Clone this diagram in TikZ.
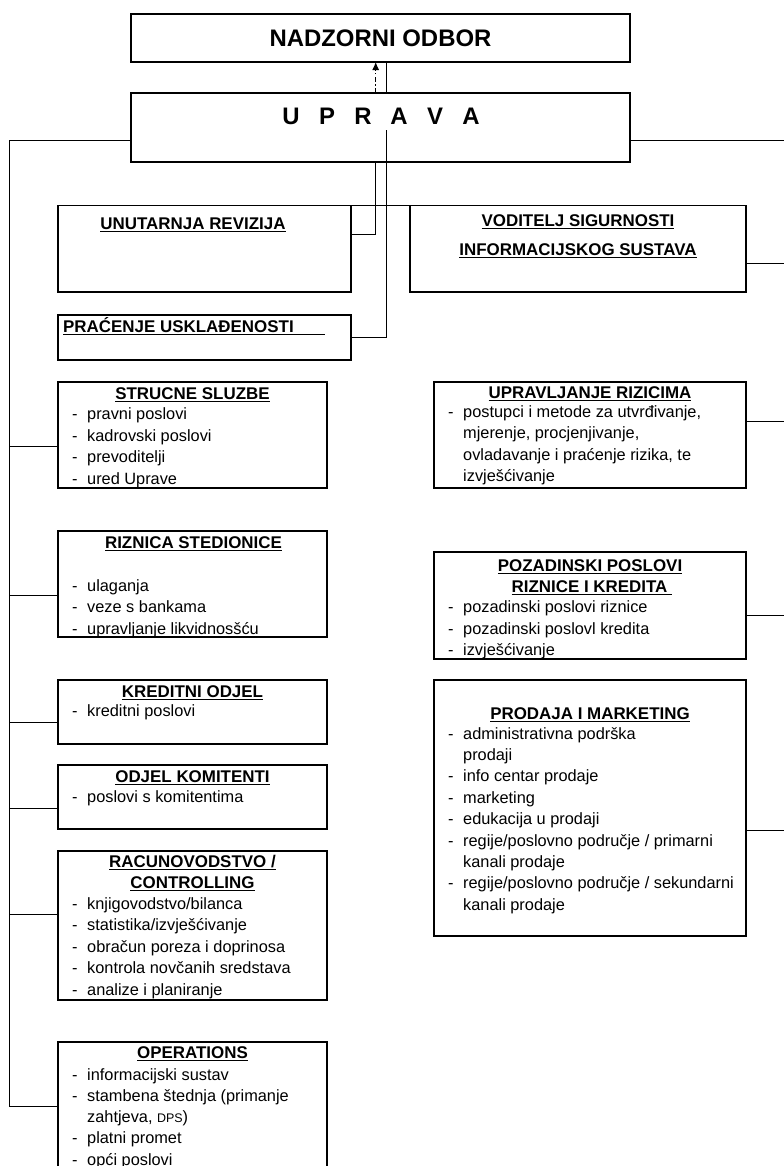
\documentclass[tikz,border=0pt]{standalone}
\usepackage{fontspec}
\setmainfont{Liberation Sans}
\usetikzlibrary{arrows.meta}
\newcommand\myul[1]{\setbox0\hbox{#1}\rlap{\rule[-2.8bp]{\wd0}{1.1bp}}\box0}
\newcommand\dsh{\makebox[15bp][l]{-}}
\newcommand\ind{\hspace*{15bp}}
\begin{document}
\begin{tikzpicture}[x=1bp,y=-1bp,
  box/.style={draw=black, line width=1.1bp, inner sep=0, outer sep=0, rectangle},
  ttl/.style={font=\fontsize{17}{20}\selectfont\bfseries, inner sep=0, anchor=base},
  big/.style={font=\fontsize{24}{28}\selectfont\bfseries, inner sep=0, anchor=base},
  itm/.style={font=\fontsize{16.4}{20}\selectfont, inner sep=0, anchor=base west},
  conn/.style={line width=1bp, black}]
\useasboundingbox (0,0) rectangle (784,1166);
\clip (0,0) rectangle (784,1166);

% boxes
\node[box, minimum width=499bp, minimum height=48bp] (nad) at (380.5,38) {};
\node[box, minimum width=499bp, minimum height=69bp] (upr) at (380.5,127.5) {};
\node[box, minimum width=293bp, minimum height=86.5bp] (unut) at (204.5,248.75) {};
\node[box, minimum width=336bp, minimum height=86.5bp] (vod) at (578,248.75) {};
\node[box, minimum width=293bp, minimum height=45bp] (prac) at (204.5,337.5) {};
\node[box, minimum width=269bp, minimum height=106bp] (stru) at (192.5,435) {};
\node[box, minimum width=312bp, minimum height=106bp] (uprr) at (590,435) {};
\node[box, minimum width=269bp, minimum height=106bp] (rizn) at (192.5,584) {};
\node[box, minimum width=312bp, minimum height=107bp] (poz) at (590,605.5) {};
\node[box, minimum width=269bp, minimum height=64bp] (kred) at (192.5,712) {};
\node[box, minimum width=312bp, minimum height=256bp] (prod) at (590,808) {};
\node[box, minimum width=269bp, minimum height=64bp] (komi) at (192.5,797) {};
\node[box, minimum width=269bp, minimum height=149bp] (racu) at (192.5,925.5) {};
\node[box, minimum width=269bp, minimum height=178bp] (oper) at (192.5,1131) {};

% titles
\node[big] (nadt) at (380.5,46.6) {NADZORNI ODBOR};
\node[big] (uprt) at (381,124.6) {\makebox[36bp]{U}\makebox[36bp]{P}\makebox[36bp]{R}\makebox[36bp]{A}\makebox[36bp]{V}\makebox[36bp]{A}};
\node[ttl] (unutt) at (193,229.5) {\myul{UNUTARNJA REVIZIJA}};
\node[ttl] (vodt1) at (578,226) {\myul{VODITELJ SIGURNOSTI}};
\node[ttl] (vodt2) at (578,255.5) {\myul{INFORMACIJSKOG SUSTAVA}};
\node[ttl, anchor=base west] (pract) at (63,332) {\myul{\makebox[262bp][l]{PRAĆENJE USKLAĐENOSTI}}};
\node[ttl] (strut) at (192.5,399) {\myul{STRUCNE SLUZBE}};
\node[ttl] (uprrt) at (590,398) {\myul{UPRAVLJANJE RIZICIMA}};
\node[ttl] (riznt) at (193.5,548) {\myul{RIZNICA STEDIONICE}};
\node[ttl] (pozt1) at (590,571) {\myul{POZADINSKI POSLOVI}};
\node[ttl] (pozt2) at (592,592) {\myul{RIZNICE I KREDITA\hspace{5bp}}};
\node[ttl] (kredt) at (192.5,697) {\myul{KREDITNI ODJEL}};
\node[ttl] (prodt) at (590,719) {\myul{PRODAJA I MARKETING}};
\node[ttl] (komit) at (192.5,782) {\myul{ODJEL KOMITENTI}};
\node[ttl] (racut1) at (192.5,867) {\myul{RACUNOVODSTVO /}};
\node[ttl] (racut2) at (192.5,888) {\myul{CONTROLLING}};
\node[ttl] (opert) at (192.5,1058) {\myul{OPERATIONS}};

% item lists
\foreach \t [count=\i from 0] in {{\dsh pravni poslovi},{\dsh kadrovski poslovi},{\dsh prevoditelji},{\dsh ured Uprave}}
  \node[itm] (strui\i) at (72,419.5+21.5*\i) {\t};
\foreach \t [count=\i from 0] in {{\dsh ulaganja},{\dsh veze s bankama},{\dsh upravljanje likvidnosšću}}
  \node[itm] (rizni\i) at (72,591+21.5*\i) {\t};
\node[itm] (kredi0) at (72,716) {\dsh kreditni poslovi};
\node[itm] (komii0) at (72,802) {\dsh poslovi s komitentima};
\foreach \t [count=\i from 0] in {{\dsh knjigovodstvo/bilanca},{\dsh statistika/izvješćivanje},{\dsh obračun poreza i doprinosa},{\dsh kontrola novčanih sredstava},{\dsh analize i planiranje}}
  \node[itm] (racui\i) at (72,909.5+21.4*\i) {\t};
\foreach \t [count=\i from 0] in {{\dsh informacijski sustav},{\dsh stambena štednja (primanje},{\ind zahtjeva, {\fontsize{12.5}{14}\selectfont DPS})},{\dsh platni promet},{\dsh opći poslovi}}
  \node[itm] (operi\i) at (72,1080+21.3*\i) {\t};
\foreach \t [count=\i from 0] in {{\dsh postupci i metode za utvrđivanje,},{\ind mjerenje, procjenjivanje,},{\ind ovladavanje i praćenje rizika, te},{\ind izvješćivanje}}
  \node[itm] (uprri\i) at (448,417+21.5*\i) {\t};
\foreach \t [count=\i from 0] in {{\dsh pozadinski poslovi riznice},{\dsh pozadinski poslovl kredita},{\dsh izvješćivanje}}
  \node[itm] (pozi\i) at (448,612.5+21.5*\i) {\t};
\foreach \t [count=\i from 0] in {{\dsh administrativna podrška},{\ind prodaji},{\dsh info centar prodaje},{\dsh marketing},{\dsh edukacija u prodaji},{\dsh regije/poslovno područje / primarni},{\ind kanali prodaje},{\dsh regije/poslovno područje / sekundarni},{\ind kanali prodaje}}
  \node[itm] (prodi\i) at (448,739+21.4*\i) {\t};

% coordinates for connector paths
\coordinate (a1) at (375.7,0);
\coordinate (a2) at (386,0);
\coordinate (a3) at (386,130);
\coordinate (u1) at (0,234);
\coordinate (lt) at (9.3,140);
\coordinate (lb) at (9.3,1106);
\coordinate (l1) at (9.3,446);
\coordinate (l2) at (9.3,595);
\coordinate (l3) at (9.3,722);
\coordinate (l4) at (9.3,808);
\coordinate (l5) at (9.3,914);
\coordinate (rt) at (790,140);
\coordinate (r1) at (790,263);
\coordinate (r2) at (790,421);
\coordinate (r3) at (790,615);
\coordinate (rb) at (790,830);

% upward dash-dot arrow and solid link
\draw[conn, dash pattern=on 5bp off 2.5bp on 1.5bp off 2.5bp, -{Latex[length=8bp,width=7bp]}] (a1 |- upr.north) -- (a1 |- nad.south);
\draw[conn] (a2 |- upr.north) -- (a2 |- nad.south);
% links down from UPRAVA
\draw[conn] (a1 |- upr.south) |- (u1 -| unut.east);
\draw[conn] (a3) |- (prac.east);
\draw[conn] (unut.north east) -- (vod.north west);
% left trunk
\draw[conn] (lt -| upr.west) -- (lt) -- (lb) -- (lb -| oper.west);
\draw[conn] (l1) -- (l1 -| stru.west);
\draw[conn] (l2) -- (l2 -| rizn.west);
\draw[conn] (l3) -- (l3 -| kred.west);
\draw[conn] (l4) -- (l4 -| komi.west);
\draw[conn] (l5) -- (l5 -| racu.west);
% right trunk
\draw[conn] (rt -| upr.east) -- (rt) -- (rb) -- (rb -| prod.east);
\draw[conn] (r1 -| vod.east) -- (r1);
\draw[conn] (r2 -| uprr.east) -- (r2);
\draw[conn] (r3 -| poz.east) -- (r3);
\end{tikzpicture}
\end{document}
